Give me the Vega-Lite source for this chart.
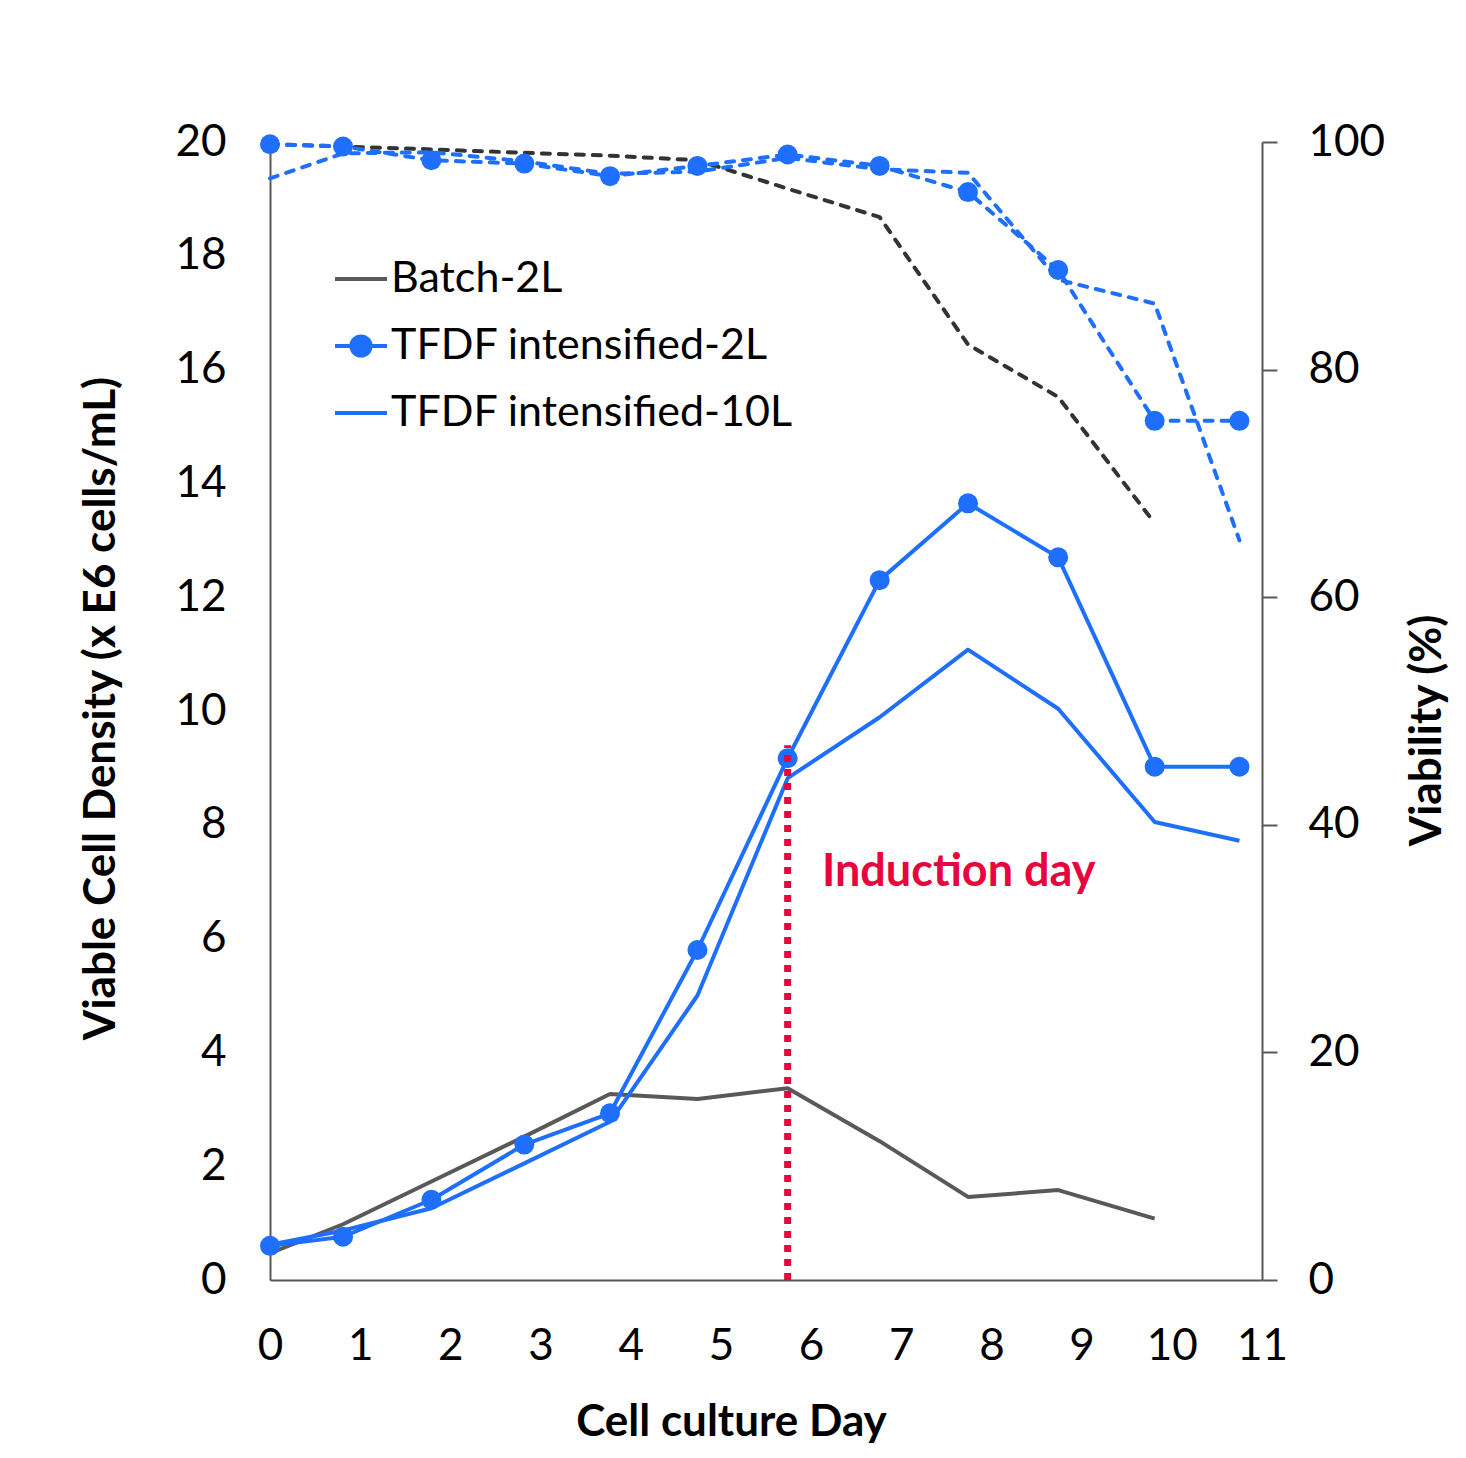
{
  "$schema": "https://vega.github.io/schema/vega-lite/v6.json",
  "width": 992,
  "height": 1138,
  "autosize": {"type": "none"},
  "padding": {"left": 270, "top": 142, "right": 204, "bottom": 178},
  "background": "white",
  "config": {
    "view": {"stroke": null},
    "font": "Lato",
    "axis": {
      "grid": false,
      "labelFont": "Lato",
      "labelFontSize": 44,
      "labelColor": "#000000",
      "titleFont": "Lato",
      "titleFontSize": 44,
      "titleFontWeight": "bold",
      "titleColor": "#000000",
      "domainColor": "#595959",
      "domainWidth": 2,
      "tickColor": "#595959",
      "tickWidth": 2
    }
  },
  "datasets": {
    "cc": [
      {"day": 0, "series": "Batch-2L", "vcd": 0.47, "via": 99.8},
      {"day": 0.81, "series": "Batch-2L", "vcd": 0.98, "via": 99.6},
      {"day": 1.79, "series": "Batch-2L", "vcd": 1.73, "via": 99.35},
      {"day": 2.82, "series": "Batch-2L", "vcd": 2.52, "via": 99.05},
      {"day": 3.77, "series": "Batch-2L", "vcd": 3.27, "via": 98.8},
      {"day": 4.74, "series": "Batch-2L", "vcd": 3.18, "via": 98.4},
      {"day": 5.74, "series": "Batch-2L", "vcd": 3.37, "via": 95.9},
      {"day": 6.76, "series": "Batch-2L", "vcd": 2.44, "via": 93.4},
      {"day": 7.74, "series": "Batch-2L", "vcd": 1.46, "via": 82.2},
      {"day": 8.74, "series": "Batch-2L", "vcd": 1.58, "via": 77.6},
      {"day": 9.81, "series": "Batch-2L", "vcd": 1.08, "via": 66.5},
      {"day": 0, "series": "TFDF intensified-2L", "vcd": 0.6, "via": 99.8},
      {"day": 0.81, "series": "TFDF intensified-2L", "vcd": 0.76, "via": 99.6},
      {"day": 1.79, "series": "TFDF intensified-2L", "vcd": 1.41, "via": 98.4},
      {"day": 2.82, "series": "TFDF intensified-2L", "vcd": 2.38, "via": 98.1},
      {"day": 3.77, "series": "TFDF intensified-2L", "vcd": 2.93, "via": 97.0},
      {"day": 4.74, "series": "TFDF intensified-2L", "vcd": 5.8, "via": 97.9},
      {"day": 5.74, "series": "TFDF intensified-2L", "vcd": 9.17, "via": 98.9},
      {"day": 6.76, "series": "TFDF intensified-2L", "vcd": 12.3, "via": 97.9},
      {"day": 7.74, "series": "TFDF intensified-2L", "vcd": 13.65, "via": 95.6},
      {"day": 8.74, "series": "TFDF intensified-2L", "vcd": 12.7, "via": 88.75},
      {"day": 9.81, "series": "TFDF intensified-2L", "vcd": 9.02, "via": 75.5},
      {"day": 10.75, "series": "TFDF intensified-2L", "vcd": 9.02, "via": 75.5},
      {"day": 0, "series": "TFDF intensified-10L", "vcd": 0.62, "via": 96.8},
      {"day": 0.81, "series": "TFDF intensified-10L", "vcd": 0.87, "via": 99.0},
      {"day": 1.79, "series": "TFDF intensified-10L", "vcd": 1.26, "via": 99.1},
      {"day": 2.82, "series": "TFDF intensified-10L", "vcd": 2.05, "via": 98.3},
      {"day": 3.77, "series": "TFDF intensified-10L", "vcd": 2.78, "via": 97.2},
      {"day": 4.74, "series": "TFDF intensified-10L", "vcd": 5.0, "via": 97.4},
      {"day": 5.74, "series": "TFDF intensified-10L", "vcd": 8.82, "via": 98.6},
      {"day": 6.76, "series": "TFDF intensified-10L", "vcd": 9.89, "via": 97.6},
      {"day": 7.74, "series": "TFDF intensified-10L", "vcd": 11.08, "via": 97.3},
      {"day": 8.74, "series": "TFDF intensified-10L", "vcd": 10.04, "via": 87.9},
      {"day": 9.81, "series": "TFDF intensified-10L", "vcd": 8.05, "via": 85.8},
      {"day": 10.75, "series": "TFDF intensified-10L", "vcd": 7.72, "via": 65.0}
    ],
    "ind": [
      {"day": 5.74, "y0": 0, "y1": 9.4, "tx": 6.12, "ty": 7.17, "label": "Induction day"}
    ]
  },
  "resolve": {"scale": {"y": "independent"}},
  "layer": [
    {
      "layer": [
        {
          "data": {"name": "cc"},
          "mark": {"type": "line", "strokeWidth": 4, "strokeJoin": "round"},
          "encoding": {
            "x": {
              "field": "day", "type": "quantitative", "title": "Cell culture Day",
              "scale": {"domain": [0, 11], "nice": false, "zero": false},
              "axis": {
                "values": [0, 1, 2, 3, 4, 5, 6, 7, 8, 9, 10, 11],
                "format": "d",
                "ticks": false, "tickSize": 0, "labelPadding": 44,
                "labelFlush": false, "labelOverlap": false,
                "titleX": 461, "titleY": 142, "titleAlign": "center", "titleBaseline": "middle"
              }
            },
            "y": {
              "field": "vcd", "type": "quantitative", "title": "Viable Cell Density (x E6 cells/mL)",
              "scale": {"domain": [0, 20], "nice": false},
              "axis": {
                "values": [0, 2, 4, 6, 8, 10, 12, 14, 16, 18, 20],
                "format": "d",
                "ticks": false, "tickSize": 0, "labelPadding": 44,
                "labelFlush": false, "labelOverlap": false,
                "titleAngle": 270, "titleX": -169, "titleY": 566,
                "titleAlign": "center", "titleBaseline": "middle"
              }
            },
            "color": {
              "field": "series", "type": "nominal",
              "scale": {
                "domain": ["Batch-2L", "TFDF intensified-2L", "TFDF intensified-10L"],
                "range": ["#595959", "#1f6fff", "#1f6fff"]
              },
              "legend": {
                "title": null,
                "orient": "none",
                "legendX": 63,
                "legendY": 109,
                "padding": 0,
                "symbolType": "stroke",
                "symbolSize": 2704,
                "symbolStrokeWidth": 4,
                "labelFont": "Lato",
                "labelFontSize": 43,
                "labelColor": "#000000",
                "labelOffset": 2,
                "labelLimit": 0,
                "rowPadding": 17,
                "encode": {
                  "symbols": {
                    "update": {
                      "shape": [
                        {"test": "datum.value === 'TFDF intensified-2L'", "value": "M-1,0L1,0M-0.37,0A0.37,0.37,0,1,0,0.37,0A0.37,0.37,0,1,0,-0.37,0Z"},
                        {"value": "stroke"}
                      ],
                      "fill": [
                        {"test": "datum.value === 'TFDF intensified-2L'", "value": "#1f6fff"},
                        {"value": "transparent"}
                      ],
                      "opacity": {"value": 1}
                    }
                  }
                }
              }
            }
          }
        },
        {
          "data": {"name": "cc"},
          "transform": [{"filter": "datum.series === 'TFDF intensified-2L'"}],
          "mark": {"type": "point", "filled": true, "size": 400, "color": "#1f6fff", "opacity": 1},
          "encoding": {
            "x": {"field": "day", "type": "quantitative", "title": "Cell culture Day"},
            "y": {"field": "vcd", "type": "quantitative", "title": "Viable Cell Density (x E6 cells/mL)"}
          }
        },
        {
          "data": {"name": "ind"},
          "mark": {"type": "rule", "color": "#e8053d", "strokeWidth": 7, "strokeDash": [7, 7]},
          "encoding": {
            "x": {"field": "day", "type": "quantitative", "title": "Cell culture Day"},
            "y": {"field": "y0", "type": "quantitative", "title": "Viable Cell Density (x E6 cells/mL)"},
            "y2": {"field": "y1"}
          }
        },
        {
          "data": {"name": "ind"},
          "mark": {"type": "text", "align": "left", "baseline": "middle", "font": "Lato", "fontSize": 45, "fontWeight": "bold", "color": "#e8053d"},
          "encoding": {
            "x": {"field": "tx", "type": "quantitative", "title": "Cell culture Day"},
            "y": {"field": "ty", "type": "quantitative", "title": "Viable Cell Density (x E6 cells/mL)"},
            "text": {"field": "label"}
          }
        }
      ]
    },
    {
      "layer": [
        {
          "data": {"name": "cc"},
          "mark": {"type": "line", "strokeWidth": 4, "strokeDash": [8, 9], "strokeCap": "round", "strokeJoin": "round"},
          "encoding": {
            "x": {"field": "day", "type": "quantitative", "title": "Cell culture Day"},
            "y": {
              "field": "via", "type": "quantitative", "title": "Viability (%)",
              "scale": {"domain": [0, 100], "nice": false},
              "axis": {
                "orient": "right",
                "values": [0, 20, 40, 60, 80, 100],
                "format": "d",
                "ticks": true, "tickSize": 15, "labelPadding": 31,
                "labelFlush": false, "labelOverlap": false,
                "titleAngle": 270, "titleX": 165, "titleY": 588,
                "titleAlign": "center", "titleBaseline": "middle"
              }
            },
            "stroke": {
              "field": "series", "type": "nominal",
              "scale": {
                "domain": ["Batch-2L", "TFDF intensified-2L", "TFDF intensified-10L"],
                "range": ["#333333", "#1f6fff", "#1f6fff"]
              },
              "legend": null
            }
          }
        },
        {
          "data": {"name": "cc"},
          "transform": [{"filter": "datum.series === 'TFDF intensified-2L'"}],
          "mark": {"type": "point", "filled": true, "size": 400, "color": "#1f6fff", "opacity": 1},
          "encoding": {
            "x": {"field": "day", "type": "quantitative", "title": "Cell culture Day"},
            "y": {"field": "via", "type": "quantitative", "title": "Viability (%)"}
          }
        }
      ]
    }
  ]
}
